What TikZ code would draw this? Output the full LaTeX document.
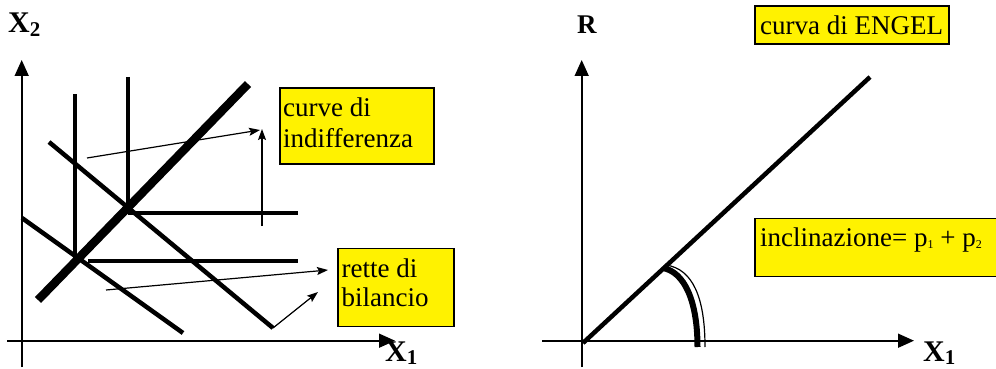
\documentclass[tikz,border=0pt]{standalone}
\usepackage{fontspec}
\setmainfont{Liberation Serif}
\usetikzlibrary{arrows.meta}
\begin{document}
\begin{tikzpicture}[x=1pt,y=-1pt,
  axis/.style={line width=1.6pt,-{Triangle[length=16pt,width=14pt]}},
  curveline/.style={line width=4.5pt},
  thinarrow/.style={line width=1.2pt,-{Stealth[length=11pt,width=8pt,inset=2pt]}},
  ybox/.style={draw,line width=1.6pt,fill=yellow,inner sep=0pt,anchor=north west},
  boxtext/.style={font=\fontsize{27}{31}\selectfont,anchor=base west,inner sep=0pt},
  axlabel/.style={font=\fontsize{30}{30}\selectfont\bfseries,anchor=base west,inner sep=0pt}]
\useasboundingbox (0,0) rectangle (996,369);

% ---------- left panel ----------
\coordinate (ly0) at (21.7,367);
\coordinate (ly1) at (21.7,60);
\coordinate (lx0) at (7,340.7);
\coordinate (lx1) at (395,340.7);
\draw[axis] (ly0) -- (ly1);
\draw[axis] (lx0) -- (lx1);
\node[axlabel] (lX2) at (8,33) {X\raisebox{-4pt}{\fontsize{21}{21}\selectfont 2}};
\node[axlabel] (lX1) at (385,361) {X\raisebox{-3pt}{\fontsize{21}{21}\selectfont 1}};

% thick diagonal
\coordinate (d0) at (38,300);
\coordinate (d1) at (248,84);
\draw[line width=8.5pt] (d0) -- (d1);
% indifference curves (L-shaped)
\coordinate (v1a) at (75,94);
\coordinate (v1b) at (75,261);
\coordinate (v2a) at (128,77);
\coordinate (v2b) at (128,213);
\coordinate (h1a) at (128,213);
\coordinate (h1b) at (298,213);
\coordinate (h2a) at (88,261);
\coordinate (h2b) at (298,261);
\draw[curveline] (v1a) -- (v1b);
\draw[curveline] (v2a) -- (v2b);
\draw[curveline] (h1a) -- (h1b);
\draw[curveline] (h2a) -- (h2b);
% budget lines
\coordinate (b1a) at (49,142);
\coordinate (b1b) at (273,328);
\coordinate (b2a) at (22,218);
\coordinate (b2b) at (183,333);
\draw[curveline] (b1a) -- (b1b);
\draw[curveline] (b2a) -- (b2b);

% boxes
\node[ybox,minimum width=154pt,minimum height=76pt] (bi) at (279,87) {};
\node[boxtext] (ti1) at (283,116) {curve di};
\node[boxtext] (ti2) at (283,147) {indifferenza};
\node[ybox,minimum width=116pt,minimum height=78pt] (bb) at (337,247.5) {};
\node[boxtext] (tb1) at (341.5,277) {rette di};
\node[boxtext] (tb2) at (341.5,306) {bilancio};

% thin arrows
\coordinate (a1s) at (87,158);
\coordinate (a1e) at (260,130);
\coordinate (a2s) at (262,226);
\coordinate (a2e) at (262,129);
\coordinate (a3s) at (106,290);
\coordinate (a3e) at (328,270);
\coordinate (a4e) at (318,292);
\draw[thinarrow] (a1s) -- (a1e);
\draw[thinarrow] (a2s) -- (a2e);
\draw[thinarrow] (a3s) -- (a3e);
\draw[thinarrow] (b1b) -- (a4e);

% ---------- right panel ----------
\coordinate (ry0) at (581.7,367);
\coordinate (ry1) at (581.7,60);
\coordinate (rx0) at (542,340.7);
\coordinate (rx1) at (914,340.7);
\draw[axis] (ry0) -- (ry1);
\draw[axis] (rx0) -- (rx1);
\node[axlabel,font=\fontsize{27}{27}\selectfont\bfseries] (rR) at (577,33.5) {R};
\node[axlabel] (rX1) at (923,361) {X\raisebox{-3pt}{\fontsize{21}{21}\selectfont 1}};

% Engel line
\coordinate (e0) at (583,343);
\coordinate (e1) at (870,77);
\draw[line width=4.5pt] (e0) -- (e1);

% angle arc (double)
\coordinate (c0) at (663,268);
\coordinate (c1) at (697.5,347);
\coordinate (k0) at (666,265);
\coordinate (k1) at (705,347);
\draw[line width=6pt] (c0) .. controls (684,272) and (697.5,300) .. (c1);
\draw[line width=1.2pt] (k0) .. controls (693,269) and (705,298) .. (k1);

% boxes
\node[ybox,minimum width=194pt,minimum height=38pt] (be) at (754.3,5) {};
\node[boxtext] (te) at (760,35) {curva di ENGEL};
\node[ybox,minimum width=250pt,minimum height=58pt] (bn) at (754.3,217.5) {};
\node[boxtext] (tn) at (760,246.5) {inclinazione= p\raisebox{-2pt}{\fontsize{12}{12}\selectfont 1} + p\raisebox{-2pt}{\fontsize{12}{12}\selectfont 2}};
\end{tikzpicture}
\end{document}
